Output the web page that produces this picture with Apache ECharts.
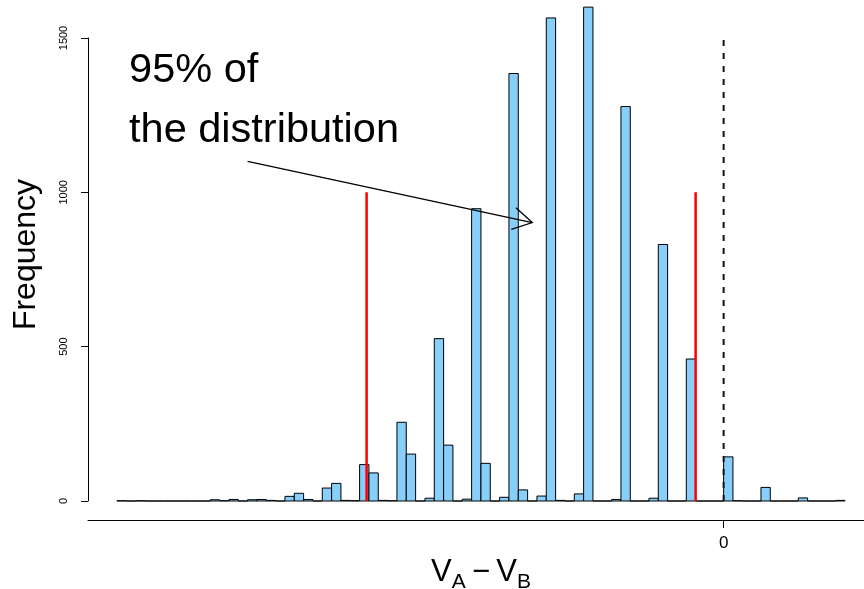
<!DOCTYPE html>
<html>
<head>
<meta charset="utf-8">
<script src="https://cdn.jsdelivr.net/npm/echarts@6/dist/echarts.min.js"></script>
<style>
  html, body { margin: 0; padding: 0; background: #fff; }
  #chart { width: 864px; height: 589px; }
</style>
</head>
<body>
<div id="chart"></div>
<script>
// histogram bins (bin width = 1 unit, first bin starts at -65)
const binStart = -65;
const binWidth = 1;
const counts = [
  1, 0, 1, 0, 0, 0, 0, 0, 0, 0,
  4, 1, 5, 0, 4, 5, 2, 0, 15, 25,
  5, 0, 42, 57, 2, 1, 118, 91, 2, 1,
  255, 152, 0, 9, 526, 181, 0, 6, 947, 122,
  0, 12, 1385, 36, 0, 16, 1565, 2, 0, 23,
  1600, 0, 0, 5, 1278, 0, 0, 9, 831, 0,
  0, 460, 0, 0, 0, 143, 1, 0, 0, 44,
  0, 0, 0, 10, 0, 0, 0, 2
];

const yTicks = [0, 500, 1000, 1500];
const xTickValues = [0];

// 95% interval bounds (red) and the zero reference (dashed)
const intervalX = [-38.25, -3];
const intervalTop = 1000;
const zeroRefX = 0;
const zeroRefTop = 1500;

// annotation
const noteLines = ['95% of', 'the distribution'];
const noteAnchors = [[-63.7, 1396], [-63.7, 1199]];
const arrowFrom = [-51, 1100];
const arrowTo = [-20.5, 902];

const FONT = '"Liberation Sans", Arial, Helvetica, sans-serif';

const chart = echarts.init(document.getElementById('chart'), null, { renderer: 'canvas' });

const binData = counts.map((c, i) => [binStart + i * binWidth, binStart + (i + 1) * binWidth, c]);
const refData = intervalX.map(x => [x, 0, intervalTop, 0]).concat([[zeroRefX, 0, zeroRefTop, 1]]);

const option = {
  backgroundColor: '#fff',
  animation: false,
  grid: { left: 88, right: 0, top: 38, bottom: 88, containLabel: false, outerBoundsMode: 'none' },
  xAxis: {
    type: 'value',
    min: -68.1,
    max: 15.04,
    offset: 19,
    name: '{v|V}{s|A}{m|\u2009\u2212\u2009}{v|V}{s|B}',
    nameLocation: 'middle',
    nameGap: 35,
    nameTextStyle: {
      padding: [0, 0, 0, 10],
      rich: {
        v: { fontSize: 31, fontFamily: FONT, color: '#000', lineHeight: 32, verticalAlign: 'top' },
        m: { fontSize: 31, fontFamily: FONT, color: '#000', lineHeight: 32, verticalAlign: 'top' },
        s: { fontSize: 21, fontFamily: FONT, color: '#000', lineHeight: 22, padding: [15, 0, 0, 0], verticalAlign: 'top' }
      }
    },
    axisLine: { show: true, onZero: false, lineStyle: { color: '#000', width: 1 } },
    axisTick: { show: true, length: 8, customValues: xTickValues, lineStyle: { color: '#000' } },
    axisLabel: { show: true, customValues: xTickValues, fontSize: 17, fontFamily: FONT, color: '#000', margin: 15 },
    splitLine: { show: false }
  },
  yAxis: {
    type: 'value',
    min: yTicks[0],
    max: yTicks[yTicks.length - 1],
    interval: 500,
    name: 'Frequency',
    nameLocation: 'middle',
    nameGap: 46,
    nameTextStyle: { fontSize: 32, fontFamily: FONT, color: '#000', padding: [0, 0, 0, 30] },
    axisLine: { show: true, onZero: false, lineStyle: { color: '#000', width: 1 } },
    axisTick: { show: true, length: 7, lineStyle: { color: '#000' } },
    axisLabel: { rotate: 90, fontSize: 11, fontFamily: FONT, color: '#000', margin: 19, formatter: v => String(v) },
    splitLine: { show: false }
  },
  series: [
    {
      name: 'bins',
      type: 'custom',
      clip: false,
      encode: { x: [0, 1], y: 2 },
      data: binData,
      renderItem: (params, api) => {
        const p0 = api.coord([api.value(0), api.value(2)]);
        const p1 = api.coord([api.value(1), 0]);
        return {
          type: 'rect',
          shape: { x: p0[0], y: p0[1], width: p1[0] - p0[0], height: p1[1] - p0[1] },
          style: { fill: '#87CEFA', stroke: '#000', lineWidth: 1 }
        };
      }
    },
    {
      name: 'refs',
      type: 'custom',
      clip: false,
      encode: { x: 0, y: [1, 2] },
      data: refData,
      renderItem: (params, api) => {
        const a = api.coord([api.value(0), api.value(1)]);
        const b = api.coord([api.value(0), api.value(2)]);
        const dashed = api.value(3) === 1;
        return {
          type: 'line',
          shape: { x1: a[0], y1: a[1], x2: b[0], y2: b[1] },
          style: dashed
            ? { stroke: '#111', lineWidth: 2, lineDash: [6, 7] }
            : { stroke: '#ff0000', lineWidth: 2.5 }
        };
      }
    },
    {
      name: 'arrow',
      type: 'custom',
      clip: false,
      encode: { x: [0, 2], y: [1, 3] },
      data: [[arrowFrom[0], arrowFrom[1], arrowTo[0], arrowTo[1]]],
      renderItem: (params, api) => {
        const a = api.coord([api.value(0), api.value(1)]);
        const b = api.coord([api.value(2), api.value(3)]);
        const ang = Math.atan2(b[1] - a[1], b[0] - a[0]);
        const len = 22;
        const w1 = [b[0] - len * Math.cos(ang - Math.PI / 6), b[1] - len * Math.sin(ang - Math.PI / 6)];
        const w2 = [b[0] - len * Math.cos(ang + Math.PI / 6), b[1] - len * Math.sin(ang + Math.PI / 6)];
        return {
          type: 'group',
          children: [
            { type: 'line', shape: { x1: a[0], y1: a[1], x2: b[0], y2: b[1] }, style: { stroke: '#000', lineWidth: 1.3 } },
            { type: 'polyline', shape: { points: [w1, b, w2] }, style: { stroke: '#000', lineWidth: 1.3, fill: null } }
          ]
        };
      }
    },
    {
      name: 'note',
      type: 'custom',
      clip: false,
      encode: { x: 0, y: 1 },
      data: noteAnchors,
      renderItem: (params, api) => {
        const p = api.coord([api.value(0), api.value(1)]);
        return {
          type: 'text',
          x: p[0],
          y: p[1],
          style: {
            text: noteLines[params.dataIndex],
            fill: '#000',
            font: '41.5px ' + FONT,
            align: 'left',
            verticalAlign: 'middle'
          }
        };
      }
    }
  ]
};

chart.setOption(option);
</script>
</body>
</html>
